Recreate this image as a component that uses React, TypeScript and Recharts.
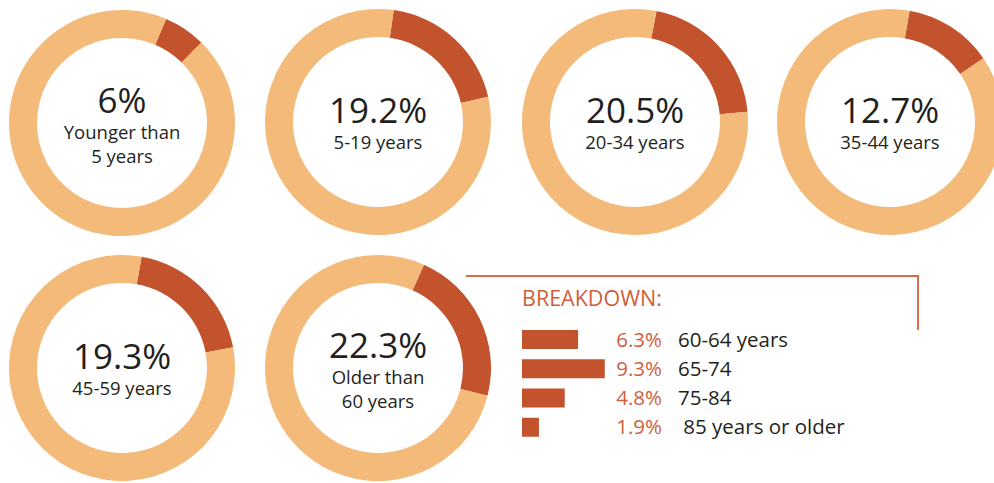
import React from "react";
import { PieChart, Pie, Cell, Label, BarChart, Bar, XAxis, YAxis, LabelList } from "recharts";

const DONUT_VALUES = [6, 19.2, 20.5, 12.7, 19.3, 22.3];
const DONUT_VALUE_LABELS = ["6%", "19.2%", "20.5%", "12.7%", "19.3%", "22.3%"];
const DONUT_CAPTIONS = [
  ["Younger than", "5 years"],
  ["5-19 years"],
  ["20-34 years"],
  ["35-44 years"],
  ["45-59 years"],
  ["Older than", "60 years"],
];

const BREAKDOWN_AGES = ["60-64 years", "65-74", "75-84", " 85 years or older"];
const BREAKDOWN_VALUES = [6.3, 9.3, 4.8, 1.9];
const BREAKDOWN_LABELS = ["6.3%", "9.3%", "4.8%", "1.9%"];

// layout: centre of each donut and the angle (clockwise from 12 o'clock) where the dark slice starts
const DONUT_POS = [
  { cx: 122, cy: 123, rot: 23 },
  { cx: 378, cy: 122, rot: 8 },
  { cx: 635, cy: 122, rot: 11 },
  { cx: 890, cy: 122, rot: 10 },
  { cx: 122, cy: 368, rot: 10 },
  { cx: 378, cy: 368, rot: 24 },
];

const LIGHT = "#f3ba79";
const DARK = "#c2532c";
const INK = "#231f20";
const ACCENT = "#cf5f3b";
const FONT = "'Open Sans', 'Noto Sans', sans-serif";
const SIZE = 240;

function Donut({ idx }: { idx: number }) {
  const pos = DONUT_POS[idx];
  const v = DONUT_VALUES[idx];
  const data = [
    { name: "share", value: v },
    { name: "rest", value: 100 - v },
  ];
  const caption = DONUT_CAPTIONS[idx];
  const start = 90 - pos.rot;
  const twoLines = caption.length > 1;
  return (
    <div style={{ position: "absolute", left: pos.cx - SIZE / 2, top: pos.cy - SIZE / 2 }}>
      <PieChart width={SIZE} height={SIZE} margin={{ top: 0, right: 0, bottom: 0, left: 0 }}>
        <Pie
          data={data}
          dataKey="value"
          cx={SIZE / 2}
          cy={SIZE / 2}
          innerRadius={85}
          outerRadius={113}
          startAngle={start}
          endAngle={start - 360}
          stroke="none"
          isAnimationActive={false}
        >
          <Cell fill={DARK} />
          <Cell fill={LIGHT} />
          <Label
            position="center"
            content={() => {
              const c = SIZE / 2;
              const top = twoLines ? c - 10 : c + 1;
              return (
                <g fontFamily={FONT} fill={INK}>
                  <text x={c} y={top} textAnchor="middle" fontSize={35}>
                    {DONUT_VALUE_LABELS[idx]}
                  </text>
                  {caption.map((line, i) => (
                    <text key={i} x={c} y={top + 26 + i * 24} textAnchor="middle" fontSize={18.5}>
                      {line}
                    </text>
                  ))}
                </g>
              );
            }}
          />
        </Pie>
      </PieChart>
    </div>
  );
}

const barData = BREAKDOWN_VALUES.map((v, i) => ({ age: BREAKDOWN_AGES[i], value: v, label: BREAKDOWN_LABELS[i] }));

function Breakdown() {
  return (
    <>
      <div style={{ position: "absolute", left: 466, top: 275, width: 451, height: 53, borderTop: "2px solid #dd6c4c", borderRight: "2px solid #dd6c4c" }} />
      <div style={{ position: "absolute", left: 522, top: 285, fontFamily: FONT, fontSize: 21.5, color: ACCENT, lineHeight: "26px" }}>
        BREAKDOWN:
      </div>
      <div style={{ position: "absolute", left: 522, top: 325 }}>
        <BarChart width={420} height={117} data={barData} layout="vertical" margin={{ top: 0, right: 331, bottom: 0, left: 0 }}>
          <XAxis type="number" domain={[0, 10]} hide />
          <YAxis type="category" dataKey="age" hide width={0} />
          <Bar dataKey="value" fill={DARK} barSize={19} isAnimationActive={false}>
            <LabelList
              dataKey="label"
              content={(p: any) => {
                const y = Number(p.y) + Number(p.height) / 2 + 7;
                const row = barData.find((d) => d.label === p.value);
                return (
                  <g fontFamily={FONT} fontSize={20.5}>
                    <text x={140} y={y} textAnchor="end" fill={ACCENT}>
                      {p.value}
                    </text>
                    <text x={156} y={y} fill={INK} style={{ whiteSpace: "pre" }}>
                      {row ? row.age : ""}
                    </text>
                  </g>
                );
              }}
            />
          </Bar>
        </BarChart>
      </div>
    </>
  );
}

export default function App() {
  return (
    <div style={{ position: "absolute", left: 0, top: 0, width: 994, height: 483, background: "#fff", overflow: "hidden" }}>
      {DONUT_VALUES.map((_, i) => (
        <Donut key={i} idx={i} />
      ))}
      <Breakdown />
    </div>
  );
}
